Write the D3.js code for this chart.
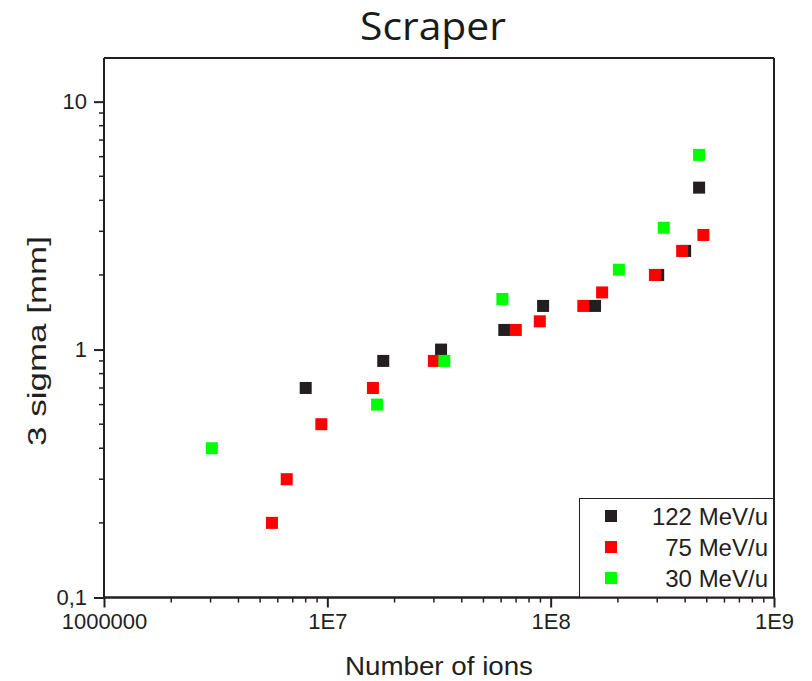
<!DOCTYPE html>
<html>
<head>
<meta charset="utf-8">
<script src="https://cdn.jsdelivr.net/npm/d3@7"></script>
<style>
  html, body { margin: 0; padding: 0; background: #fff; }
  svg { display: block; }
</style>
</head>
<body>
<svg id="chart" width="812" height="681"></svg>
<script>
// ---- data ----
const seriesNames = ["122 MeV/u", "75 MeV/u", "30 MeV/u"];
const seriesColors = ["#231f20", "#ff0000", "#00ff00"];

const ions122 = [8.0e6, 1.78e7, 3.23e7, 6.2e7, 9.25e7, 1.58e8, 3.03e8, 4.0e8, 4.62e8];
const sigma122 = [0.70, 0.90, 1.00, 1.20, 1.50, 1.50, 2.00, 2.50, 4.50];

const ions75 = [5.65e6, 6.58e6, 9.4e6, 1.60e7, 3.0e7, 6.98e7, 8.94e7, 1.40e8, 1.70e8, 2.93e8, 3.88e8, 4.83e8];
const sigma75 = [0.20, 0.30, 0.50, 0.70, 0.90, 1.20, 1.30, 1.50, 1.70, 2.00, 2.50, 2.90];

const ions30 = [3.04e6, 1.67e7, 3.34e7, 6.08e7, 2.02e8, 3.21e8, 4.62e8];
const sigma30 = [0.40, 0.60, 0.90, 1.60, 2.10, 3.10, 6.10];

const xMajorTicks = [1e6, 1e7, 1e8, 1e9];
const xTickLabels = ["1000000", "1E7", "1E8", "1E9"];
const yMajorTicks = [0.1, 1, 10];
const yTickLabels = ["0,1", "1", "10"];

const titleText = "Scraper";
const xLabelText = "Number of ions";
const yLabelText = "3 sigma [mm]";

// ---- layout ----
const svg = d3.select("#chart");
const L = 104, R = 774, T = 58, B = 597.5;
const axisColor = "#231f20";
const font = "'Liberation Sans', Arial, sans-serif";

const x = d3.scaleLog().domain([1e6, 1e9]).range([L, R]);
const y = d3.scaleLog().domain([0.1, 15]).range([B, T]);

// minor ticks
const xMinor = [];
for (let d = 1e6; d < 1e9; d *= 10) for (let k = 2; k <= 9; k++) xMinor.push(d * k);
const yMinor = [];
for (let d = 0.1; d < 15; d *= 10) for (let k = 2; k <= 9; k++) { const v = d * k; if (v <= 15) yMinor.push(+v.toPrecision(3)); }

// frame (top and right)
svg.append("line").attr("x1", L).attr("x2", R).attr("y1", T).attr("y2", T)
  .attr("stroke", axisColor).attr("stroke-width", 2);
svg.append("line").attr("x1", R).attr("x2", R).attr("y1", T).attr("y2", B)
  .attr("stroke", axisColor).attr("stroke-width", 2);

// bottom axis
const xAxis = d3.axisBottom(x).tickValues(xMajorTicks)
  .tickFormat((d, i) => xTickLabels[i]).tickSize(10).tickPadding(6);
const gx = svg.append("g").attr("transform", `translate(0,${B})`).call(xAxis);
gx.select(".domain").attr("stroke", axisColor).attr("stroke-width", 2).attr("d", `M${L},0H${R}`);
gx.selectAll(".tick line").attr("stroke", axisColor).attr("stroke-width", 2);
gx.selectAll(".tick text").attr("font-family", font).attr("font-size", 22).attr("fill", axisColor);
svg.append("g").attr("transform", `translate(0,${B})`)
  .selectAll("line").data(xMinor).join("line")
  .attr("x1", d => x(d)).attr("x2", d => x(d)).attr("y1", 0).attr("y2", 5)
  .attr("stroke", axisColor).attr("stroke-width", 1.5);

// left axis
const yAxis = d3.axisLeft(y).tickValues(yMajorTicks)
  .tickFormat((d, i) => yTickLabels[i]).tickSize(10).tickPadding(7);
const gy = svg.append("g").attr("transform", `translate(${L},0)`).call(yAxis);
gy.select(".domain").attr("stroke", axisColor).attr("stroke-width", 2).attr("d", `M0,${T}V${B}`);
gy.selectAll(".tick line").attr("stroke", axisColor).attr("stroke-width", 2);
gy.selectAll(".tick text").attr("font-family", font).attr("font-size", 22).attr("fill", axisColor);
svg.append("g").attr("transform", `translate(${L},0)`)
  .selectAll("line").data(yMinor).join("line")
  .attr("y1", d => y(d)).attr("y2", d => y(d)).attr("x1", 0).attr("x2", -5)
  .attr("stroke", axisColor).attr("stroke-width", 1.5);

// title and axis labels
svg.append("text").attr("x", 433).attr("y", 40).attr("text-anchor", "middle")
  .attr("font-family", "'Open Sans', 'Noto Sans', sans-serif").attr("font-size", 38)
  .attr("fill", "#1a1a1a").attr("textLength", 146).attr("lengthAdjust", "spacingAndGlyphs")
  .text(titleText);
svg.append("text").attr("x", 439).attr("y", 675).attr("text-anchor", "middle")
  .attr("font-family", font).attr("font-size", 25).attr("fill", axisColor)
  .attr("textLength", 188).attr("lengthAdjust", "spacingAndGlyphs").text(xLabelText);
svg.append("text").attr("transform", "translate(46,341) rotate(-90)").attr("text-anchor", "middle")
  .attr("font-family", font).attr("font-size", 26).attr("fill", axisColor)
  .attr("textLength", 210).attr("lengthAdjust", "spacingAndGlyphs").text(yLabelText);

// points (black, red, green drawing order)
const series = [
  { name: seriesNames[0], color: seriesColors[0], xs: ions122, ys: sigma122 },
  { name: seriesNames[1], color: seriesColors[1], xs: ions75, ys: sigma75 },
  { name: seriesNames[2], color: seriesColors[2], xs: ions30, ys: sigma30 }
];
const S = 12;
series.forEach(s => {
  svg.append("g").selectAll("rect").data(s.xs.map((v, i) => [v, s.ys[i]])).join("rect")
    .attr("x", d => x(d[0]) - S / 2).attr("y", d => y(d[1]) - S / 2)
    .attr("width", S).attr("height", S).attr("fill", s.color);
});

// legend
const lg = svg.append("g");
lg.append("rect").attr("x", 579.5).attr("y", 498.5).attr("width", R - 579.5).attr("height", B - 498.5)
  .attr("fill", "#fff").attr("stroke", axisColor).attr("stroke-width", 1);
series.forEach((s, i) => {
  const cy = 516 + i * 31;
  lg.append("rect").attr("x", 611 - S / 2).attr("y", cy - S / 2).attr("width", S).attr("height", S).attr("fill", s.color);
  lg.append("text").attr("x", 768).attr("y", cy + 9).attr("text-anchor", "end")
    .attr("font-family", font).attr("font-size", 24).attr("fill", axisColor).text(s.name);
});
// redraw right/bottom border lines over legend box
svg.append("line").attr("x1", R).attr("x2", R).attr("y1", T).attr("y2", B)
  .attr("stroke", axisColor).attr("stroke-width", 2);
svg.append("line").attr("x1", L).attr("x2", R).attr("y1", B).attr("y2", B)
  .attr("stroke", axisColor).attr("stroke-width", 2);
</script>
</body>
</html>
